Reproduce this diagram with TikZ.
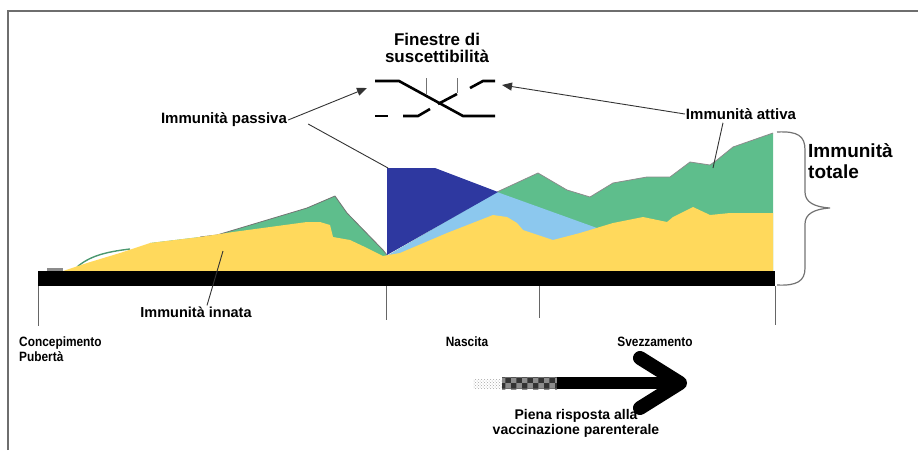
\documentclass[tikz,border=0pt]{standalone}
\usepackage{fontspec}
\setmainfont{Liberation Sans}
\newfontfamily\cond[FakeStretch=0.88]{Liberation Sans}
\usetikzlibrary{arrows.meta,patterns}
\definecolor{igreen}{RGB}{94,190,140}
\definecolor{iyellow}{RGB}{255,217,92}
\definecolor{iblue}{RGB}{46,56,160}
\definecolor{ilblue}{RGB}{140,200,238}
\definecolor{frame}{RGB}{110,110,110}
\tikzset{
  lbl/.style={font=\fontsize{15}{16}\selectfont\bfseries, inner sep=1pt},
  clbl/.style={font=\cond\fontsize{13.5}{14}\selectfont\bfseries, inner sep=1pt},
  leader/.style={draw=black!80, line width=0.9pt},
  ptr/.style={leader, -{Triangle[length=10pt,width=8pt]}},
  tick/.style={draw=black!60, line width=1pt},
  win/.style={line width=2.6pt, black},
}
\begin{document}
\begin{tikzpicture}[x=1pt,y=-1pt]
\useasboundingbox (0,0) rectangle (918,450);
% frame
\draw[frame, line width=1.6pt] (8,450) -- (8,11) -- (918,11);
% ---- graph ----
% green envelope
\fill[igreen] (150,243) -- (200,237) -- (217,235) -- (307,208) -- (335,196) -- (347,213) -- (383,250) -- (387,256)
  -- (497,192) -- (538,173) -- (567,190) -- (590,197) -- (613,183) -- (647,177) -- (670,177) -- (690,162)
  -- (710,165) -- (717,160) -- (733,147) -- (773,133) -- (773,271) -- (150,271) -- cycle;
\draw[black!55, line width=0.8pt] (200,237) -- (217,235) -- (307,208) -- (335,196) -- (347,213) -- (383,250) -- (387,255);
\draw[black!45, line width=0.8pt] (497,192) -- (538,173) -- (567,190) -- (590,197) -- (613,183) -- (647,177) -- (670,177) -- (690,162)
  -- (710,165) -- (717,160) -- (733,147) -- (773,133);
\draw[igreen!80!black, line width=1.4pt] (77,267) .. controls (90,256) and (105,252) .. (130,249);
% light blue
\fill[ilblue] (387,256) -- (497,192) -- (597,228) -- (597,271) -- (387,271) -- cycle;
% dark blue
\fill[iblue] (387,168) -- (435,168) -- (498,192) -- (387,255) -- cycle;
% yellow
\fill[iyellow] (63,271) -- (87,263) -- (120,253) -- (150,243) -- (200,237) -- (233,232) -- (270,227) -- (307,222)
  -- (320,222) -- (330,225) -- (333,237) -- (350,240) -- (367,248) -- (383,256) -- (400,253) -- (447,233)
  -- (493,215) -- (507,217) -- (517,223) -- (523,230) -- (553,240) -- (580,233) -- (613,223) -- (643,217)
  -- (667,222) -- (673,217) -- (693,207) -- (710,215) -- (730,213) -- (773,213) -- (773,271) -- cycle;
\fill[black!45] (47,268) rectangle (63,271);
% black bar
\fill[black] (38,271) rectangle (775,286);
% ticks
\draw[tick] (38,286) -- (38,326);
\draw[tick] (386,286) -- (386,320);
\draw[tick] (539,286) -- (539,318);
\draw[tick] (775,286) -- (775,325);
% brace
\draw[black!55, line width=1.2pt] (777,132) .. controls (798,131) and (805,136) .. (805,150) -- (805,192)
  .. controls (805,202) and (814,207) .. (830,208) .. controls (814,209) and (805,214) .. (805,224) -- (805,268)
  .. controls (805,281) and (797,286) .. (777,285);
% ---- susceptibility windows ----
\node[font=\fontsize{17}{17}\selectfont\bfseries, align=center, inner sep=0pt] (fin) at (437,48) {Finestre di\\suscettibilità};
\draw[win] (375,81) -- (399,81) -- (463,116) -- (495,116);
\draw[win] (375,116) -- (388,116);
\draw[win] (403,116) -- (418,116) -- (430,109);
\draw[win] (438,104) -- (457,94);
\draw[win] (470,88) -- (483,81) -- (495,81);
\draw[black!55, line width=0.8pt] (426,78) -- (426,95);
\draw[black!55, line width=0.8pt] (457,78) -- (457,93);
\coordinate (tipP) at (367,88);
\coordinate (tipA) at (502,85);
% labels
\node[lbl] (pass) at (224,120) {Immunità passiva};
\node[lbl] (att) at (741,114) {Immunità attiva};
\node[font=\fontsize{19}{21}\selectfont\bfseries, align=left, anchor=west, inner sep=0pt] (tot) at (808,161) {Immunità\\totale};
\draw[ptr] (pass.east) -- (tipP);
\draw[ptr] (att.west) -- (tipA);
\coordinate (blueC) at (388,168);
\draw[leader] ([xshift=20pt,yshift=-4pt]pass.east) -- (blueC);
\coordinate (greenC) at (713,168);
\draw[leader] ([xshift=-18pt,yshift=-2pt]att.south) -- (greenC);
\node[lbl, font=\fontsize{14.5}{16}\selectfont\bfseries] (inn) at (196,312) {Immunità innata};
\coordinate (yelC) at (223,251);
\draw[leader] ([xshift=11pt]inn.north) -- (yelC);
\node[clbl, align=left, anchor=north west, font=\cond\fontsize{13.5}{14.5}\selectfont\bfseries] (conc) at (18,336) {Concepimento\\Pubertà};
\node[clbl] (nas) at (467,342) {Nascita};
\node[clbl] (svz) at (655,342) {Svezzamento};
% big arrow
\fill[pattern=crosshatch dots, pattern color=black!35] (473,379) rectangle (502,388);
\fill[black!80] (502,377) rectangle (557,389);
\fill[pattern=checkerboard, pattern color=black!45] (502,377) rectangle (557,389);
\coordinate (arS) at (557,383);
\coordinate (arT) at (675,383);
\draw[black, line width=12pt] (arS) -- (arT);
\draw[black, line width=14pt, line cap=round, line join=round] (640,358) -- (680,383) -- (640,408);
\node[font=\fontsize{14}{15}\selectfont\bfseries, align=center, inner sep=0pt] (pien) at (576,423) {Piena risposta alla\\vaccinazione parenterale};
\end{tikzpicture}
\end{document}
